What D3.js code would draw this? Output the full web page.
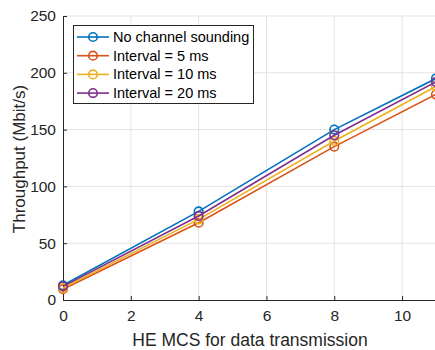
<!DOCTYPE html>
<html><head><meta charset="utf-8">
<script src="https://cdn.jsdelivr.net/npm/d3@7"></script>
<style>body{margin:0;background:#fff}svg{display:block;font-family:"Liberation Sans",Arial,sans-serif}</style>
</head><body><svg id="c" width="435" height="350"></svg>
<script>
const mcs = [0, 4, 8, 11];
const seriesNames = ["No channel sounding", "Interval = 5 ms", "Interval = 10 ms", "Interval = 20 ms"];
const noSounding = [13, 78, 150, 195];
const interval5 = [9.5, 68, 135, 181];
const interval10 = [10.5, 71, 140, 188];
const interval20 = [12, 74, 145, 192];
const colors = ["#0072BD", "#D95319", "#EDB120", "#7E2F8E"];
const xTicks = [0, 2, 4, 6, 8, 10];
const yTicks = [0, 50, 100, 150, 200, 250];

const svg = d3.select("#c");
const m = {l: 63, t: 16, r: 436, b: 300};
const x = d3.scaleLinear().domain([0, 11]).range([m.l, m.r]);
const y = d3.scaleLinear().domain([0, 250]).range([m.b, m.t]);

// grid
svg.append("g").selectAll("line").data(xTicks.filter(d => d > 0)).join("line")
  .attr("x1", d => x(d)).attr("x2", d => x(d)).attr("y1", y(0)).attr("y2", y(250))
  .attr("stroke", "#e3e3e3").attr("stroke-width", 1);
svg.append("g").selectAll("line").data(yTicks.filter(d => d > 0)).join("line")
  .attr("x1", x(0)).attr("x2", x(11)).attr("y1", d => y(d)).attr("y2", d => y(d))
  .attr("stroke", "#e3e3e3").attr("stroke-width", 1);

// axes
const xAxis = svg.append("g").attr("transform", `translate(0,${m.b})`)
  .call(d3.axisBottom(x).tickValues(xTicks).tickSizeInner(-4).tickSizeOuter(0).tickPadding(10));
const yAxis = svg.append("g").attr("transform", `translate(${m.l},0)`)
  .call(d3.axisLeft(y).tickValues(yTicks).tickSizeInner(-4).tickSizeOuter(0).tickPadding(7));
[xAxis, yAxis].forEach(a => {
  a.select(".domain").attr("stroke", "#262626").attr("stroke-width", 1);
  a.selectAll(".tick line").attr("stroke", "#262626");
  a.selectAll("text").attr("fill", "#262626").style("font-size", "15.5px").style("font-family", '"Liberation Sans",Arial,sans-serif');
});

// labels
svg.append("text").attr("x", 250).attr("y", 346).attr("text-anchor", "middle")
  .attr("fill", "#262626").style("font-size", "17.5px").text("HE MCS for data transmission");
svg.append("text").attr("transform", `translate(25,159) rotate(-90)`).attr("text-anchor", "middle")
  .attr("fill", "#262626").style("font-size", "17px").text("Throughput (Mbit/s)");

// series
const all = [noSounding, interval5, interval10, interval20];
const line = d3.line().x((d, i) => x(mcs[i])).y(d => y(d));
all.forEach((vals, k) => {
  const g = svg.append("g");
  g.append("path").datum(vals).attr("d", line).attr("fill", "none")
    .attr("stroke", colors[k]).attr("stroke-width", 1.6);
  g.selectAll("circle").data(vals).join("circle")
    .attr("cx", (d, i) => x(mcs[i])).attr("cy", d => y(d)).attr("r", 4.3)
    .attr("fill", "none").attr("stroke", colors[k]).attr("stroke-width", 1.6);
});

// legend
const lg = svg.append("g");
lg.append("rect").attr("x", 73.5).attr("y", 25.5).attr("width", 180).attr("height", 78)
  .attr("fill", "#fff").attr("stroke", "#262626").attr("stroke-width", 1);
seriesNames.forEach((n, k) => {
  const yy = 37 + k * 18.7;
  lg.append("line").attr("x1", 77).attr("x2", 109).attr("y1", yy).attr("y2", yy)
    .attr("stroke", colors[k]).attr("stroke-width", 1.6);
  lg.append("circle").attr("cx", 93).attr("cy", yy).attr("r", 4.3)
    .attr("fill", "none").attr("stroke", colors[k]).attr("stroke-width", 1.6);
  lg.append("text").attr("x", 113).attr("y", yy + 5).attr("fill", "#000")
    .style("font-size", "14.5px").text(n);
});
</script></body></html>
